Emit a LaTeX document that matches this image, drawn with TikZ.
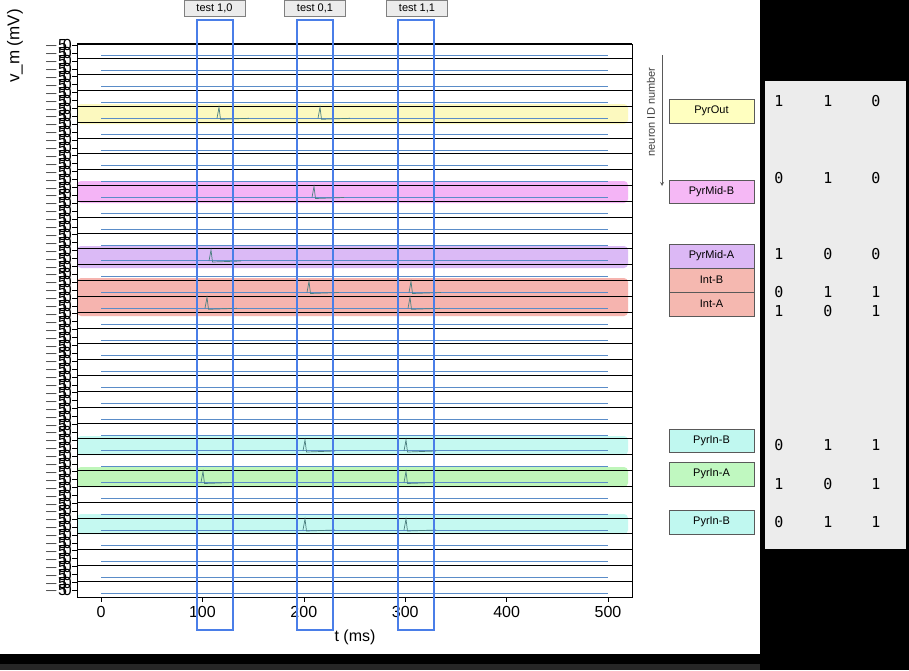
\documentclass[tikz,border=0pt]{standalone}
\usepackage{fontspec}
\setmainfont{Liberation Sans}
\setsansfont{Liberation Sans}
\setmonofont{DejaVu Sans Mono}
\begin{document}
\begin{tikzpicture}[x=1pt,y=-1pt,
  trace/.style={draw={rgb,255:red,90;green,140;blue,200},line width=0.7pt},
  lane/.style={draw=black,line width=0.8pt},
  hl/.style={rounded corners=4pt,opacity=0.55},
  testlbl/.style={draw=gray,fill=gray!15,font=\fontsize{11}{12}\selectfont,minimum width=61pt,minimum height=16pt,inner sep=0pt},
  leg/.style={draw=gray!70!black,minimum width=85pt,minimum height=23.5pt,inner sep=0pt,font=\fontsize{11}{12}\selectfont},
  num/.style={font=\ttfamily\fontsize{15}{16}\selectfont}]
\useasboundingbox (0,0) rectangle (909,670);
\fill[white] (0,0) rectangle (909,670);
\fill[black] (760,0) rectangle (909,670);
\fill[black] (0,654) rectangle (909,670);
\fill[black!85] (0,664) rectangle (760,670);
% highlights
\fill[hl,fill={rgb,255:red,250;green,245;blue,140}] (77,104) rectangle (628,124);
\fill[hl,fill={rgb,255:red,235;green,120;blue,240}] (77,181) rectangle (628,203);
\fill[hl,fill={rgb,255:red,190;green,130;blue,240}] (77,246) rectangle (628,268);
\fill[hl,fill={rgb,255:red,240;green,120;blue,110}] (77,278) rectangle (628,316);
\fill[hl,fill={rgb,255:red,150;green,245;blue,230}] (77,436) rectangle (628,455);
\fill[hl,fill={rgb,255:red,140;green,240;blue,130}] (77,467) rectangle (628,487);
\fill[hl,fill={rgb,255:red,150;green,245;blue,230}] (77,514) rectangle (628,534);
% lanes and traces
\foreach \k in {0,...,34}{
  \draw[lane] (77,{43+15.83*\k}) -- (632,{43+15.83*\k});
  \draw[trace] (101,{55+15.83*\k}) -- (608,{55+15.83*\k});
}
% spikes
\foreach \xx/\yy in {219/118.3,320/118.3,314/197.5,211/261,309/292.5,411/292.5,207/308.3,410/308.3,305/451,406/451,203/482.5,406/482.5,305/530,406/530}{
  \draw[line width=0.7pt,draw=gray!60!teal] (\xx-2,\yy) -- (\xx,\yy-11) -- (\xx+1.5,\yy+1) -- (\xx+30,\yy);
}
% axes
\draw[line width=0.8pt] (77,44) rectangle (632,597);
\foreach \t in {0,100,...,500}{
  \draw (101+1.014*\t,597) -- (101+1.014*\t,602);
  \node[font=\fontsize{16}{18}\selectfont,anchor=north] at (101+1.014*\t,603) {\t};
}
\foreach \i in {0,...,69}{
  \draw (72,{45+7.9*\i}) -- (77,{45+7.9*\i});
  \node[font=\fontsize{16}{18}\selectfont,anchor=east,inner sep=0pt] at (72,{46+7.9*\i}) {$-$5\kern-4pt0};
}
\node[font=\fontsize{17}{18}\selectfont,rotate=90] (ylab) at (15,46) {v\_m (mV)};
\node[font=\fontsize{16}{18}\selectfont] (xlab) at (355,637) {t (ms)};
% test windows
\foreach \a/\b in {197/233,297/333,398/434}{
  \draw[line width=2.5pt,draw={rgb,255:red,74;green,126;blue,232}] (\a,20) rectangle (\b,630);
}
\node[testlbl] (t1) at (214.5,8) {test 1,0};
\node[testlbl] (t2) at (315,8) {test 0,1};
\node[testlbl] (t3) at (417,8) {test 1,1};
% neuron id
\node[font=\fontsize{11}{12}\selectfont,rotate=90,text=gray!50!black] (nid) at (651,112) {neuron ID number};
\coordinate (ar1) at (662,55);
\coordinate (ar2) at (662,186);
\draw[-stealth,gray!70!black,line width=0.8pt] (ar1) -- (ar2);
% legend
\node[leg,fill={rgb,255:red,255;green,255;blue,192}] (l1) at (711.5,111) {PyrOut};
\node[leg,fill={rgb,255:red,245;green,184;blue,245}] (l2) at (711.5,191.5) {PyrMid-B};
\node[leg,fill={rgb,255:red,220;green,184;blue,245}] (l3) at (711.5,256) {PyrMid-A};
\node[leg,fill={rgb,255:red,245;green,184;blue,176}] (l4) at (711.5,280) {Int-B};
\node[leg,fill={rgb,255:red,245;green,184;blue,176}] (l5) at (711.5,304) {Int-A};
\node[leg,fill={rgb,255:red,192;green,248;blue,240}] (l6) at (711.5,440.5) {PyrIn-B};
\node[leg,fill={rgb,255:red,192;green,248;blue,192}] (l7) at (711.5,474) {PyrIn-A};
\node[leg,fill={rgb,255:red,192;green,248;blue,240}] (l8) at (711.5,522) {PyrIn-B};
% right panel
\fill[gray!15] (765,81) rectangle (906,549);
\foreach \y/\a/\b/\c in {101/1/1/0,178/0/1/0,254/1/0/0,292/0/1/1,311/1/0/1,445/0/1/1,484/1/0/1,522/0/1/1}{
  \node[num] at (779,\y) {\a};
  \node[num] at (828,\y) {\b};
  \node[num] at (876,\y) {\c};
}
\end{tikzpicture}
\end{document}
